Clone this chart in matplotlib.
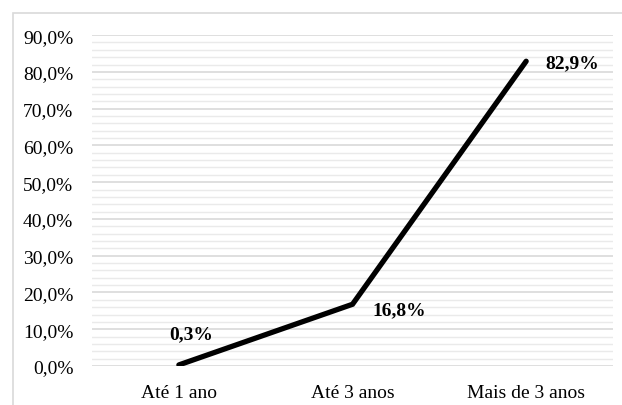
import matplotlib.pyplot as plt
from matplotlib.patches import Rectangle
from matplotlib.ticker import MultipleLocator, FuncFormatter

# Tempo de atuação
categorias = ["Até 1 ano", "Até 3 anos", "Mais de 3 anos"]
percentuais = [0.3, 16.8, 82.9]
rotulos = ["0,3%", "16,8%", "82,9%"]

plt.rcParams['font.family'] = ['Liberation Serif', 'DejaVu Serif']

fig = plt.figure(figsize=(6.22, 4.06), dpi=100)
ax = fig.add_axes([0.148, 0.096, 0.8375, 0.815])

# moldura cinza do gráfico
fig.patches.append(Rectangle((13 / 622, -0.05), 1.0, (406 - 14) / 406 + 0.05,
                             transform=fig.transFigure, fill=False,
                             edgecolor='#d9d9d9', linewidth=1.2))

x = range(len(categorias))
ax.plot(x, percentuais, color='black', linewidth=3.8, solid_capstyle='round',
        solid_joinstyle='miter', zorder=3)

# rótulos de dados
offsets = [(12, 31), (20, -5), (19, -1)]
alinh = ['center', 'left', 'left']
for i, (v, t) in enumerate(zip(percentuais, rotulos)):
    ax.annotate(t, (i, v), xytext=offsets[i], textcoords='offset pixels',
                ha=alinh[i], va='center', fontsize=14, fontweight='bold')

ax.set_xlim(-0.5, 2.5)
ax.set_ylim(0, 90)
ax.set_xticks(list(x))
ax.set_xticklabels(categorias)
ax.yaxis.set_major_locator(MultipleLocator(10))
ax.yaxis.set_minor_locator(MultipleLocator(2))
ax.yaxis.set_major_formatter(FuncFormatter(lambda v, p: f"{v:.1f}%".replace('.', ',')))

ax.grid(which='major', axis='y', color='#d9d9d9', linewidth=1.2, zorder=0)
ax.grid(which='minor', axis='y', color='#eaeaea', linewidth=1.0, zorder=0)
ax.set_axisbelow(True)

for s in ax.spines.values():
    s.set_visible(False)
ax.tick_params(axis='both', which='both', length=0, labelsize=14)
ax.tick_params(axis='x', pad=13)
ax.tick_params(axis='y', pad=13.5)

fig.savefig('out.png', dpi=100)
